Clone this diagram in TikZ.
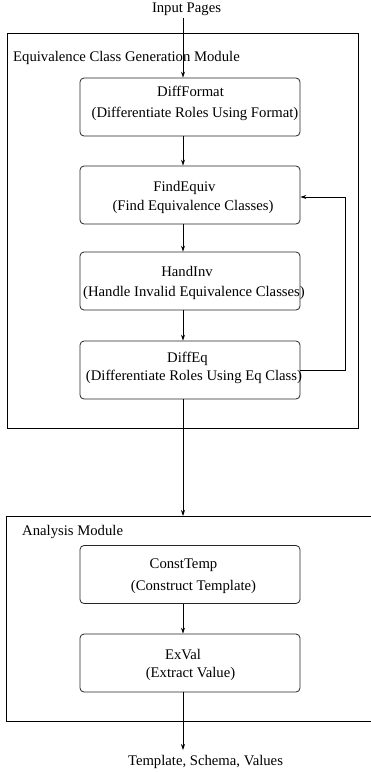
\documentclass[tikz,border=0pt]{standalone}
\usepackage{fontspec}
\setmainfont{Liberation Serif}
\usetikzlibrary{arrows.meta}
\begin{document}
\begin{tikzpicture}[x=1pt,y=-1pt,
  every node/.style={font=\fontsize{14.7}{17}\selectfont},
  box/.style={draw=black!85, line width=0.8pt, rounded corners=4pt, minimum width=220pt, minimum height=58pt, inner sep=0pt},
  frame/.style={draw=black, line width=0.8pt, inner sep=0pt},
  txt/.style={anchor=base, inner sep=0pt},
  lbl/.style={anchor=base west, inner sep=0pt},
  line/.style={draw=black, line width=0.8pt},
  arr/.style={line, -{Stealth[length=6pt,width=4pt]}}]
\useasboundingbox (0,0) rectangle (371,772);
% frames
\node[frame, minimum width=351pt, minimum height=395pt] (mod1) at (182.5,230.5) {};
\coordinate (m2tr) at (371,516);
\coordinate (m2tl) at (6.5,516);
\coordinate (m2bl) at (6.5,721);
\coordinate (m2br) at (371,721);
\draw[line] (m2tr) -- (m2tl) -- (m2bl) -- (m2br);
% labels
\node[txt] (input) at (186.5,12.5) {Input Pages};
\node[lbl] (mod1lbl) at (13,61) {Equivalence Class Generation Module};
\node[lbl] (mod2lbl) at (22,535) {Analysis Module};
\node[txt] (output) at (205.5,765) {Template, Schema, Values};
% boxes
\node[box] (diffformat) at (190,107) {};
\node[box] (findequiv) at (190,195) {};
\node[box] (handinv) at (190,281) {};
\node[box] (diffeq) at (190,370) {};
\node[box] (consttemp) at (190,574.5) {};
\node[box] (exval) at (190,663) {};
% box texts
\node[txt] (t1a) at (190.5,96) {DiffFormat};
\node[txt] (t1b) at (195,117) {(Differentiate Roles Using Format)};
\node[txt] (t2a) at (184.5,191) {FindEquiv};
\node[txt] (t2b) at (193,210) {(Find Equivalence Classes)};
\node[txt] (t3a) at (187,276) {HandInv};
\node[txt] (t3b) at (194,296) {(Handle Invalid Equivalence Classes)};
\node[txt] (t4a) at (187.5,362) {DiffEq};
\node[txt] (t4b) at (194,380) {(Differentiate Roles Using Eq Class)};
\node[txt] (t5a) at (183.5,568) {ConstTemp};
\node[txt] (t5b) at (193.5,590) {(Construct Template)};
\node[txt] (t6a) at (183,659) {ExVal};
\node[txt] (t6b) at (190.5,677) {(Extract Value)};
% connectors
\coordinate (inp) at (183,18);
\coordinate (outp) at (183,750);
\coordinate (loopx) at (345,370);
\draw[arr] (inp) -- (inp |- diffformat.north);
\draw[arr] (inp |- diffformat.south) -- (inp |- findequiv.north);
\draw[arr] (inp |- findequiv.south) -- (inp |- handinv.north);
\draw[arr] (inp |- handinv.south) -- (inp |- diffeq.north);
\draw[arr] (inp |- diffeq.south) -- (inp |- m2tl);
\draw[arr] (inp |- consttemp.south) -- (inp |- exval.north);
\draw[arr] (inp |- exval.south) -- (outp);
\draw[arr] (diffeq.east) -- (loopx) |- ([yshift=-2pt]findequiv.east);
\end{tikzpicture}
\end{document}
